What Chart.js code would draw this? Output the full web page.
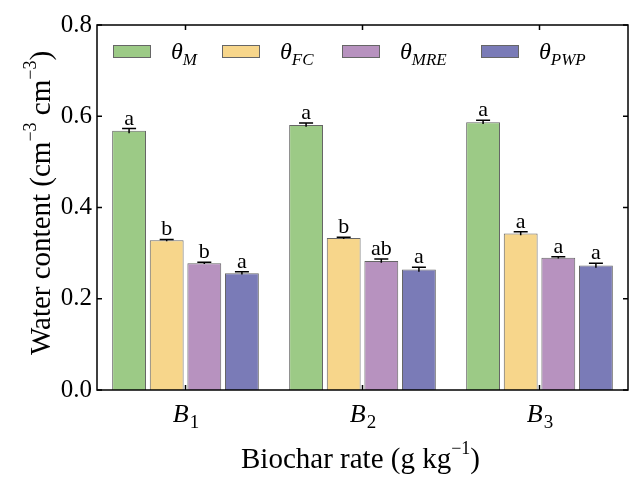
<!DOCTYPE html>
<html>
<head>
<meta charset="utf-8">
<script src="https://cdn.jsdelivr.net/npm/chart.js@4.4.0/dist/chart.umd.min.js"></script>
<style>
  html, body { margin: 0; padding: 0; background: #fff; }
  #wrap { width: 638px; height: 478px; }
</style>
</head>
<body>
<div id="wrap"><canvas id="waterChart" width="638" height="478"></canvas></div>
<script>
// biochar rates (subscript drawn separately)
const categories = ['B1', 'B2', 'B3'];
const catSubs = ['1', '2', '3'];
const seriesNames = ['θM', 'θFC', 'θMRE', 'θPWP'];
const seriesSubs = ['M', 'FC', 'MRE', 'PWP'];

const thetaM   = [0.568, 0.581, 0.587];
const thetaFC  = [0.328, 0.333, 0.343];
const thetaMRE = [0.278, 0.283, 0.290];
const thetaPWP = [0.256, 0.264, 0.273];

const errM   = [0.005, 0.004, 0.004];
const errFC  = [0.002, 0.002, 0.004];
const errMRE = [0.002, 0.004, 0.002];
const errPWP = [0.003, 0.005, 0.005];

const lettersM   = ['a', 'a', 'a'];
const lettersFC  = ['b', 'b', 'a'];
const lettersMRE = ['b', 'ab', 'a'];
const lettersPWP = ['a', 'a', 'a'];

const yTicks = [0.0, 0.2, 0.4, 0.6, 0.8];

const colors = ['#9CCA86', '#F7D68B', '#B792BF', '#7A7BB7'];
const SERIF = '"Liberation Serif", "DejaVu Serif", serif';

const values = [thetaM, thetaFC, thetaMRE, thetaPWP];
const errors = [errM, errFC, errMRE, errPWP];
const letters = [lettersM, lettersFC, lettersMRE, lettersPWP];

const datasets = values.map((v, i) => ({
    label: seriesNames[i],
    data: v,
    backgroundColor: colors[i],
    borderColor: '#666',
    borderWidth: 1,
    categoryPercentage: 0.85,
    barPercentage: 0.9
}));

// error bars, letters, axis frame, inward ticks, legend and titles
const decorPlugin = {
    id: 'decor',
    afterDatasetsDraw(chart) {
        const ctx = chart.ctx;
        const y = chart.scales.y;
        ctx.save();
        ctx.strokeStyle = '#000';
        ctx.lineWidth = 1.5;
        ctx.fillStyle = '#000';
        ctx.font = '22px ' + SERIF;
        ctx.textAlign = 'center';
        ctx.textBaseline = 'alphabetic';
        chart.data.datasets.forEach((ds, i) => {
            const meta = chart.getDatasetMeta(i);
            meta.data.forEach((bar, j) => {
                const v = ds.data[j];
                const e = errors[i][j];
                const yTop = y.getPixelForValue(v + e);
                const yBot = y.getPixelForValue(v - e);
                ctx.beginPath();
                ctx.moveTo(bar.x, yBot);
                ctx.lineTo(bar.x, yTop);
                ctx.moveTo(bar.x - 7, yTop);
                ctx.lineTo(bar.x + 7, yTop);
                ctx.stroke();
                ctx.fillText(letters[i][j], bar.x, yTop - 4);
            });
        });
        ctx.restore();
    },
    afterDraw(chart) {
        const ctx = chart.ctx;
        const a = chart.chartArea;
        const x = chart.scales.x;
        const y = chart.scales.y;
        ctx.save();
        // frame
        ctx.strokeStyle = '#000';
        ctx.lineWidth = 1.5;
        ctx.strokeRect(a.left, a.top, a.right - a.left, a.bottom - a.top);
        // inward ticks
        ctx.beginPath();
        yTicks.forEach(t => {
            const py = y.getPixelForValue(t);
            ctx.moveTo(a.left, py); ctx.lineTo(a.left + 5, py);
            ctx.moveTo(a.right, py); ctx.lineTo(a.right - 5, py);
        });
        categories.forEach((c, i) => {
            const px = x.getPixelForValue(i);
            ctx.moveTo(px, a.bottom); ctx.lineTo(px, a.bottom - 5);
            ctx.moveTo(px, a.top); ctx.lineTo(px, a.top + 5);
        });
        ctx.stroke();

        ctx.fillStyle = '#000';
        ctx.textAlign = 'left';
        // x category labels B1..B3
        categories.forEach((c, i) => {
            const px = x.getPixelForValue(i);
            ctx.font = 'italic 26px ' + SERIF;
            const w1 = ctx.measureText('B').width;
            ctx.font = '19px ' + SERIF;
            const w2 = ctx.measureText(catSubs[i]).width;
            const x0 = px - (w1 + w2) / 2;
            ctx.font = 'italic 26px ' + SERIF;
            ctx.fillText('B', x0, a.bottom + 32);
            ctx.font = '19px ' + SERIF;
            ctx.fillText(catSubs[i], x0 + w1 + 1, a.bottom + 38);
        });

        // x title
        const cx = (a.left + a.right) / 2 - 2;
        ctx.font = '29px ' + SERIF;
        const t1 = 'Biochar rate (g kg';
        const wT1 = ctx.measureText(t1).width;
        ctx.font = '18px ' + SERIF;
        const wSup = ctx.measureText('\u22121').width;
        ctx.font = '29px ' + SERIF;
        const wEnd = ctx.measureText(')').width;
        const sx = cx - (wT1 + wSup + wEnd) / 2;
        ctx.fillText(t1, sx, a.bottom + 78);
        ctx.font = '18px ' + SERIF;
        ctx.fillText('\u22121', sx + wT1, a.bottom + 64);
        ctx.font = '29px ' + SERIF;
        ctx.fillText(')', sx + wT1 + wSup, a.bottom + 78);

        // y title (rotated)
        ctx.save();
        ctx.translate(50, 203);
        ctx.rotate(-Math.PI / 2);
        const parts = [
            ['Water content (cm', 29, 0],
            ['\u22123', 18, -14],
            [' cm', 29, 0],
            ['\u22123', 18, -14],
            [')', 29, 0]
        ];
        let total = 0;
        parts.forEach(p => { ctx.font = p[1] + 'px ' + SERIF; total += ctx.measureText(p[0]).width; });
        let px0 = -total / 2;
        parts.forEach(p => {
            ctx.font = p[1] + 'px ' + SERIF;
            ctx.fillText(p[0], px0, p[2]);
            px0 += ctx.measureText(p[0]).width;
        });
        ctx.restore();

        // legend
        const boxX = [16, 125, 245, 384];
        chart.data.datasets.forEach((ds, i) => {
            const bx = a.left + boxX[i];
            const by = a.top + 20;
            ctx.fillStyle = ds.backgroundColor;
            ctx.fillRect(bx, by, 38, 13);
            ctx.strokeStyle = '#666';
            ctx.lineWidth = 1;
            ctx.strokeRect(bx + 0.5, by + 0.5, 37, 12);
            ctx.fillStyle = '#000';
            ctx.font = 'italic 24px ' + SERIF;
            const tx = bx + 58;
            ctx.fillText('\u03b8', tx, by + 14);
            const wt = ctx.measureText('\u03b8').width;
            ctx.font = 'italic 17px ' + SERIF;
            ctx.fillText(seriesSubs[i], tx + wt, by + 20);
        });
        ctx.restore();
    }
};

new Chart(document.getElementById('waterChart'), {
    type: 'bar',
    data: { labels: categories, datasets: datasets },
    options: {
        responsive: false,
        animation: false,
        layout: { padding: { top: 25, right: 10, left: 0, bottom: 0 } },
        plugins: {
            legend: { display: false },
            tooltip: { enabled: false }
        },
        scales: {
            x: {
                grid: { display: false },
                border: { display: false },
                ticks: { display: false },
                afterFit: s => { s.height = 88; }
            },
            y: {
                min: 0,
                max: 0.8,
                grid: { display: false, drawTicks: false },
                border: { display: false },
                afterFit: s => { s.width = 97; },
                afterBuildTicks: s => { s.ticks = yTicks.map(v => ({ value: v })); },
                ticks: {
                    color: '#000',
                    padding: 5,
                    font: { family: SERIF, size: 25 },
                    callback: v => v.toFixed(1)
                }
            }
        }
    },
    plugins: [decorPlugin]
});
</script>
</body>
</html>
